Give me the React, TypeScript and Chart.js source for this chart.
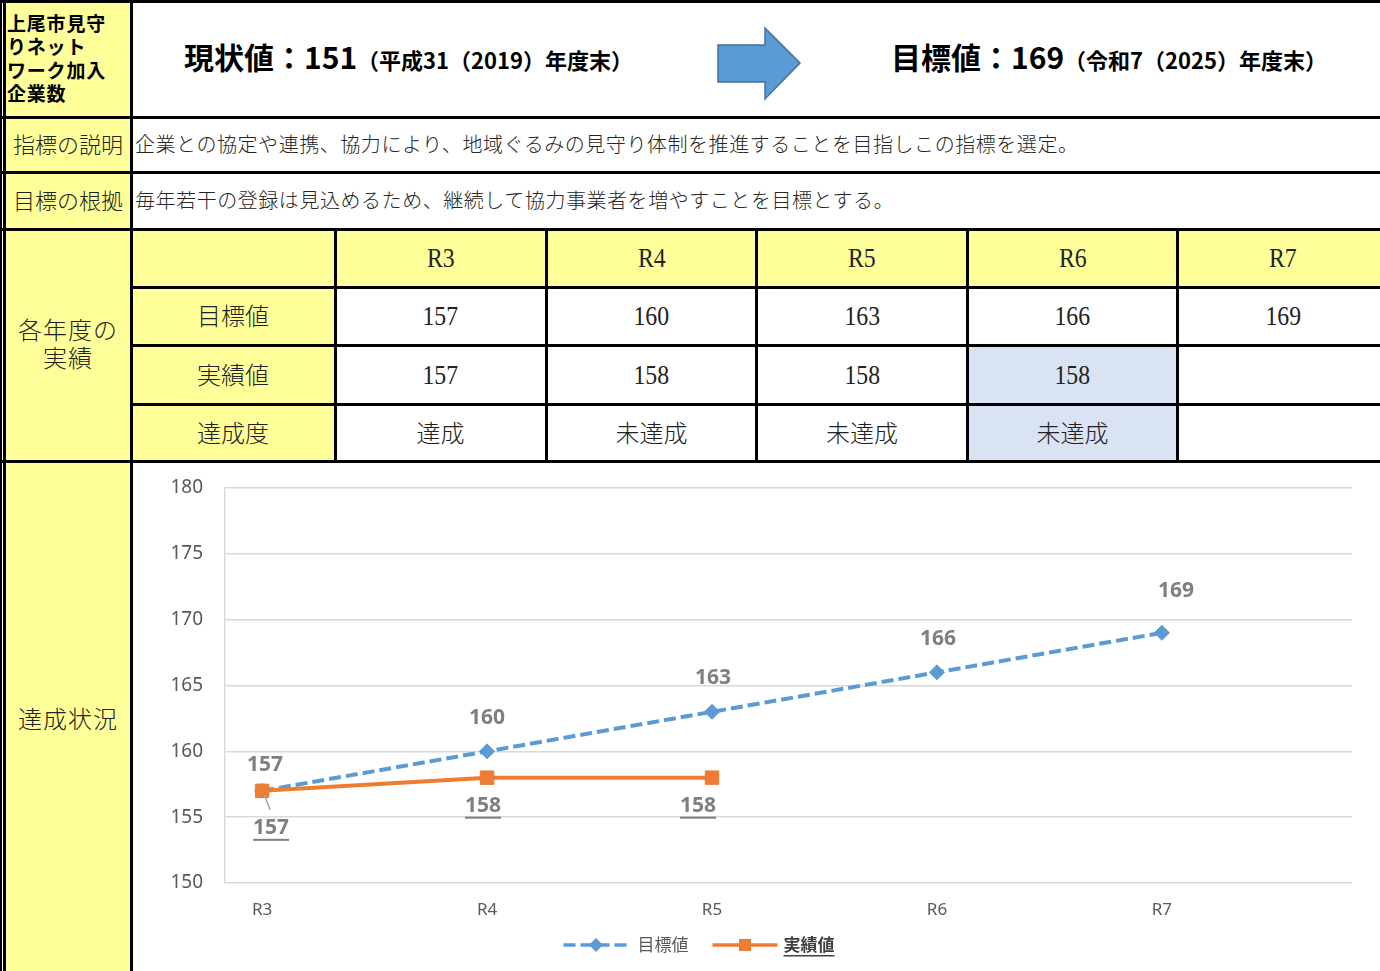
import React, { useEffect, useRef } from "react";
import { Chart, registerables } from "chart.js";

Chart.register(...registerables);

// ---------- data ----------
const categories = ["R3", "R4", "R5", "R6", "R7"];
const targetValues: number[] = [157, 160, 163, 166, 169];
const actualValues: (number | null)[] = [157, 158, 158, 158, null];
const chartActualValues: (number | null)[] = [157, 158, 158, null, null];
const achievementLabels = ["達成", "未達成", "未達成", "未達成", ""];
const yTickValues = [150, 155, 160, 165, 170, 175, 180];
const seriesNames = ["目標値", "実績値"];
const rowLabels = ["目標値", "実績値", "達成度"];
const indicatorNameLines = ["上尾市見守", "りネット", "ワーク加入", "企業数"];
const currentValue = 151;
const currentNote = "（平成31（2019）年度末）";
const goalValue = 169;
const goalNote = "（令和7（2025）年度末）";
const descriptionText =
  "企業との協定や連携、協力により、地域ぐるみの見守り体制を推進することを目指しこの指標を選定。";
const rationaleText =
  "毎年若干の登録は見込めるため、継続して協力事業者を増やすことを目標とする。";

// ---------- styles ----------
const BLUE = "#5B9BD5";
const ORANGE = "#ED7D31";
const YELLOW = "#FFFF99";
const LIGHTBLUE = "#DAE3F3";
const JP = '"Noto Sans CJK JP", "Noto Sans", sans-serif';
const SERIF = '"Liberation Serif", "Noto Sans CJK JP", serif';

// label placement per dataset (dx, dy, leader)
const LABEL_OPTS = [
  { underline: false, offsets: [[3, -26], [0, -33], [1, -34], [1, -33], [14, -42]] },
  { underline: true, offsets: [[9, 37, 1], [-4, 28], [-14, 28]] },
];

const valueLabelPlugin = {
  id: "valueLabels",
  afterDatasetsDraw(chart: any) {
    const ctx = chart.ctx;
    chart.data.datasets.forEach((ds: any, di: number) => {
      const meta = chart.getDatasetMeta(di);
      const cfg = LABEL_OPTS[di];
      meta.data.forEach((pt: any, i: number) => {
        const raw = ds.data[i];
        if (!raw || raw.y == null) return;
        const off = cfg.offsets[i] || [0, -30];
        const x = pt.x + off[0];
        const y = pt.y + off[1];
        ctx.save();
        if (off[2]) {
          ctx.strokeStyle = "#A6A6A6";
          ctx.lineWidth = 1.5;
          ctx.beginPath();
          ctx.moveTo(pt.x + 2, pt.y + 4);
          ctx.lineTo(pt.x + 8, pt.y + 19);
          ctx.stroke();
        }
        ctx.font = 'bold 21px "Noto Sans", sans-serif';
        ctx.fillStyle = "#7F7F7F";
        ctx.textAlign = "center";
        ctx.textBaseline = "middle";
        const text = String(raw.y);
        ctx.fillText(text, x, y);
        if (cfg.underline) {
          const w = ctx.measureText(text).width;
          ctx.fillRect(x - w / 2, y + 11, w, 2);
        }
        ctx.restore();
      });
    });
  },
};

const legendCenterX = 567;
const lineLegendPlugin = {
  id: "lineLegend",
  afterDraw(chart: any) {
    const ctx = chart.ctx;
    const cy = chart.chartArea.bottom + 62;
    const lineLen = 65;
    const fonts = ['17px "Noto Sans CJK JP", sans-serif', 'bold 17px "Noto Sans CJK JP", sans-serif'];
    const colors = ["#595959", "#404040"];
    const gaps = [9, 6];
    ctx.save();
    const widths = seriesNames.map((n, i) => {
      ctx.font = fonts[i];
      return ctx.measureText(n).width;
    });
    const total = lineLen * 2 + gaps[0] + gaps[1] + widths[0] + widths[1] + 24;
    let x = legendCenterX - total / 2;
    chart.data.datasets.forEach((ds: any, i: number) => {
      ctx.strokeStyle = ds.borderColor;
      ctx.fillStyle = ds.borderColor;
      ctx.lineWidth = 3.5;
      ctx.setLineDash(ds.borderDash || []);
      ctx.beginPath();
      ctx.moveTo(x, cy);
      ctx.lineTo(x + lineLen, cy);
      ctx.stroke();
      ctx.setLineDash([]);
      const mx = x + lineLen / 2;
      ctx.beginPath();
      if (ds.pointStyle === "rectRot") {
        const r = 7;
        ctx.moveTo(mx, cy - r);
        ctx.lineTo(mx + r, cy);
        ctx.lineTo(mx, cy + r);
        ctx.lineTo(mx - r, cy);
        ctx.closePath();
      } else {
        ctx.rect(mx - 6, cy - 6, 12, 12);
      }
      ctx.fill();
      x += lineLen + gaps[i];
      ctx.font = fonts[i];
      ctx.fillStyle = colors[i];
      ctx.textAlign = "left";
      ctx.textBaseline = "middle";
      ctx.fillText(seriesNames[i], x, cy);
      if (i === 1) {
        ctx.fillRect(x, cy + 10, widths[i], 1.5);
      }
      x += widths[i] + 24;
    });
    ctx.restore();
  },
};

function LineChart() {
  const ref = useRef<HTMLCanvasElement>(null);
  useEffect(() => {
    const chart = new Chart(ref.current as HTMLCanvasElement, {
      type: "line",
      data: {
        datasets: [
          {
            label: seriesNames[0],
            data: targetValues.map((v, i) => ({ x: i, y: v })),
            borderColor: BLUE,
            backgroundColor: BLUE,
            borderWidth: 4,
            borderDash: [12, 5],
            pointStyle: "rectRot",
            pointRadius: 7.5,
            pointBorderWidth: 1,
            pointBorderColor: BLUE,
            pointBackgroundColor: BLUE,
            tension: 0,
            order: 2,
          } as any,
          {
            label: seriesNames[1],
            data: chartActualValues.map((v, i) => ({ x: i, y: v })),
            borderColor: ORANGE,
            backgroundColor: ORANGE,
            borderWidth: 4,
            pointStyle: "rect",
            pointRadius: 9.5,
            pointBorderWidth: 1,
            pointBorderColor: ORANGE,
            pointBackgroundColor: ORANGE,
            tension: 0,
            order: 1,
          } as any,
        ],
      },
      options: {
        animation: false,
        responsive: false,
        maintainAspectRatio: false,
        layout: { padding: { top: 25, right: 28, bottom: 38, left: 0 } },
        plugins: { legend: { display: false }, tooltip: { enabled: false } },
        scales: {
          x: {
            type: "linear",
            min: -0.165,
            max: 4.845,
            afterBuildTicks: (s: any) => {
              s.ticks = categories.map((_, i) => ({ value: i }));
            },
            afterFit: (s: any) => {
              s.height = 50;
              s.paddingLeft = 0;
              s.paddingRight = 0;
            },
            ticks: {
              callback: (v: any) => categories[v as number] ?? "",
              color: "#595959",
              font: { family: '"Noto Sans", sans-serif', size: 17 },
              padding: 17,
              autoSkip: false,
              maxRotation: 0,
            },
            grid: { display: false, drawTicks: false },
            border: { display: false },
          },
          y: {
            min: 150,
            max: 180,
            afterBuildTicks: (s: any) => {
              s.ticks = yTickValues.map((v) => ({ value: v }));
            },
            afterFit: (s: any) => {
              s.width = 93;
              s.paddingTop = 0;
              s.paddingBottom = 0;
            },
            ticks: {
              color: "#595959",
              font: { family: '"Noto Sans", sans-serif', size: 19 },
              padding: 22,
            },
            grid: { color: "#D9D9D9", lineWidth: 1.5, drawTicks: false },
            border: { display: true, color: "#D9D9D9", width: 1.5 },
          },
        },
      } as any,
      plugins: [valueLabelPlugin, lineLegendPlugin],
    });
    return () => chart.destroy();
  }, []);
  return (
    <canvas
      ref={ref}
      width={1248}
      height={508}
      style={{ display: "block", width: 1248, height: 508 }}
    />
  );
}

// ---------- layout helpers ----------
type BoxProps = {
  x: number;
  y: number;
  w: number;
  h: number;
  bg?: string;
  children?: React.ReactNode;
  style?: React.CSSProperties;
};
const Box = ({ x, y, w, h, bg, children, style }: BoxProps) => (
  <div
    style={{
      position: "absolute",
      left: x,
      top: y,
      width: w,
      height: h,
      background: bg,
      display: "flex",
      alignItems: "center",
      justifyContent: "center",
      whiteSpace: "nowrap",
      boxSizing: "border-box",
      ...style,
    }}
  >
    {children}
  </div>
);
const Line = ({ x, y, w, h }: { x: number; y: number; w: number; h: number }) => (
  <div style={{ position: "absolute", left: x, top: y, width: w, height: h, background: "#000" }} />
);

const Num = ({ children }: { children: React.ReactNode }) => (
  <span style={{ display: "inline-block", transform: "scaleX(0.88)", fontFamily: SERIF, fontSize: 27 }}>
    {children}
  </span>
);

// column geometry
const colX = [336.5, 547.5, 758, 968.5, 1179];
const colW = 208;
const rowY = [231, 289, 347, 406];
const rowH = [55, 55, 56, 54];

export default function App() {
  const jpCell: React.CSSProperties = {
    fontFamily: JP,
    fontSize: 24,
    color: "#222",
    fontWeight: 300,
    paddingBottom: 4,
  };
  const textRow: React.CSSProperties = {
    justifyContent: "flex-start",
    fontSize: 20,
    letterSpacing: 0.55,
    color: "#262626",
    fontWeight: 300,
    paddingBottom: 4,
  };
  return (
    <div
      style={{
        position: "relative",
        width: 1380,
        height: 971,
        overflow: "hidden",
        background: "#fff",
        fontFamily: JP,
      }}
    >
      <style>{`body{margin:0}`}</style>

      {/* left yellow column */}
      <Box x={5} y={0} w={126} h={971} bg={YELLOW} />

      {/* indicator name */}
      <div
        style={{
          position: "absolute",
          left: 7,
          top: 11,
          fontFamily: JP,
          fontWeight: 700,
          fontSize: 19,
          letterSpacing: 0.8,
          lineHeight: "23.3px",
          color: "#000",
        }}
      >
        {indicatorNameLines.map((l, i) => (
          <div key={i}>{l}</div>
        ))}
      </div>

      {/* current value */}
      <div
        style={{
          position: "absolute",
          left: 184,
          top: 41,
          fontFamily: JP,
          fontWeight: 700,
          fontSize: 30,
          lineHeight: 1,
          whiteSpace: "nowrap",
          color: "#000",
        }}
      >
        現状値：{currentValue}
        <span style={{ fontSize: 22 }}>{currentNote}</span>
      </div>

      {/* arrow */}
      <svg style={{ position: "absolute", left: 716, top: 26 }} width={88} height={76}>
        <polygon
          points="2,19 49,19 49,2 84,37 49,73 49,56 2,56"
          fill={BLUE}
          stroke="#41719C"
          strokeWidth={1.5}
        />
      </svg>

      {/* goal value */}
      <div
        style={{
          position: "absolute",
          left: 891,
          top: 41,
          fontFamily: JP,
          fontWeight: 700,
          fontSize: 30,
          lineHeight: 1,
          whiteSpace: "nowrap",
          color: "#000",
        }}
      >
        目標値：{goalValue}
        <span style={{ fontSize: 22 }}>{goalNote}</span>
      </div>

      {/* description rows */}
      <Box x={6} y={119} w={124} h={52} style={{ fontSize: 22, color: "#222", fontWeight: 300, paddingBottom: 4 }}>
        指標の説明
      </Box>
      <Box x={135} y={119} w={1240} h={52} style={textRow}>
        {descriptionText}
      </Box>
      <Box x={6} y={174} w={124} h={54} style={{ fontSize: 22, color: "#222", fontWeight: 300, paddingBottom: 4 }}>
        目標の根拠
      </Box>
      <Box x={135} y={174} w={1240} h={54} style={textRow}>
        {rationaleText}
      </Box>

      {/* yearly results block */}
      <Box
        x={6}
        y={231}
        w={124}
        h={229}
        style={{ ...jpCell, flexDirection: "column", lineHeight: "28px", letterSpacing: 1, paddingBottom: 6 }}
      >
        <div>各年度の</div>
        <div>実績</div>
      </Box>
      <Box x={132} y={231} w={1260} h={55} bg={YELLOW} />
      <Box x={132} y={289} w={202} h={172} bg={YELLOW} />
      <Box x={968.5} y={347} w={208} h={114} bg={LIGHTBLUE} />

      {categories.map((c, i) => (
        <Box key={"h" + i} x={colX[i]} y={rowY[0]} w={colW} h={rowH[0]} style={{ color: "#222" }}>
          <Num>{c}</Num>
        </Box>
      ))}
      {rowLabels.map((l, r) => (
        <Box key={"l" + r} x={132} y={rowY[r + 1]} w={202} h={rowH[r + 1]} style={jpCell}>
          {l}
        </Box>
      ))}
      {targetValues.map((v, i) => (
        <Box key={"t" + i} x={colX[i]} y={rowY[1]} w={colW} h={rowH[1]} style={{ color: "#222" }}>
          <Num>{v}</Num>
        </Box>
      ))}
      {actualValues.map((v, i) => (
        <Box key={"a" + i} x={colX[i]} y={rowY[2]} w={colW} h={rowH[2]} style={{ color: "#222" }}>
          {v != null ? <Num>{v}</Num> : null}
        </Box>
      ))}
      {achievementLabels.map((v, i) => (
        <Box key={"d" + i} x={colX[i]} y={rowY[3]} w={colW} h={rowH[3]} style={jpCell}>
          {v}
        </Box>
      ))}

      {/* chart row */}
      <Box
        x={6}
        y={463}
        w={124}
        h={512}
        style={{ ...jpCell, alignItems: "flex-start", paddingTop: 237, paddingBottom: 0, letterSpacing: 1 }}
      >
        達成状況
      </Box>
      <div style={{ position: "absolute", left: 132, top: 463 }}>
        <LineChart />
      </div>

      {/* borders */}
      <Line x={0} y={0} w={1380} h={3} />
      <Line x={0} y={116} w={1380} h={3} />
      <Line x={0} y={171} w={1380} h={3} />
      <Line x={0} y={228} w={1380} h={3} />
      <Line x={130} y={286} w={1250} h={3} />
      <Line x={130} y={344} w={1250} h={3} />
      <Line x={130} y={403} w={1250} h={3} />
      <Line x={0} y={460} w={1380} h={3} />

      <Line x={0} y={0} w={1.5} h={971} />
      <Line x={3} y={0} w={3} h={971} />
      <Line x={129.5} y={0} w={3} h={971} />
      {[333.5, 544.5, 755, 965.5, 1176].map((x, i) => (
        <Line key={"v" + i} x={x} y={228} w={3} h={235} />
      ))}
    </div>
  );
}
